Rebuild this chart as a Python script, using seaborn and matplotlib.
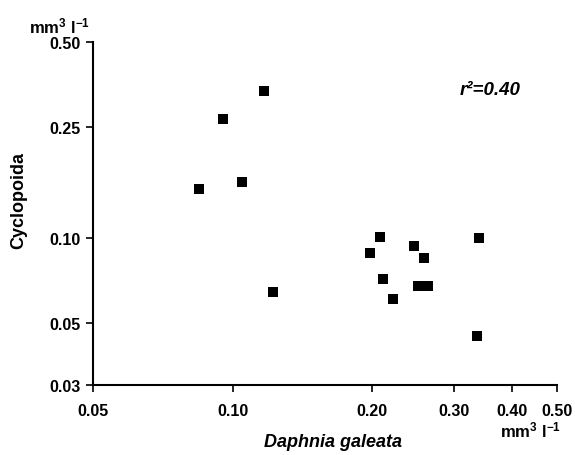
import matplotlib
matplotlib.use("Agg")
import matplotlib.pyplot as plt
import seaborn as sns
import pandas as pd
from matplotlib.ticker import FixedLocator, FixedFormatter, NullLocator

daphnia = [0.117, 0.0953, 0.1047, 0.0846, 0.122, 0.208, 0.198, 0.246, 0.258,
           0.339, 0.211, 0.251, 0.264, 0.2215, 0.336]
cyclopoida = [0.335, 0.266, 0.159, 0.150, 0.0644, 0.101, 0.0886, 0.0938, 0.085,
              0.100, 0.0716, 0.0676, 0.0676, 0.0607, 0.0449]
xticks = [0.05, 0.10, 0.20, 0.30, 0.40, 0.50]
xticklabels = ["0.05", "0.10", "0.20", "0.30", "0.40", "0.50"]
yticks = [0.03, 0.05, 0.10, 0.25, 0.50]
yticklabels = ["0.03", "0.05", "0.10", "0.25", "0.50"]

df = pd.DataFrame({"Daphnia": daphnia, "Cyclopoida": cyclopoida})

sns.set_style("white")
plt.rcParams['font.family'] = ['Liberation Sans', 'DejaVu Sans']
plt.rcParams['text.color'] = 'black'
plt.rcParams['mathtext.default'] = 'bf'
plt.rcParams['mathtext.fontset'] = 'custom'
plt.rcParams['mathtext.bf'] = 'Liberation Sans:bold'
plt.rcParams['mathtext.rm'] = 'Liberation Sans:bold'

fig = plt.figure(figsize=(5.75, 4.56), dpi=100)
ax = fig.add_axes([0.1617, 0.1535, 0.807, 0.7522])
sns.scatterplot(data=df, x="Daphnia", y="Cyclopoida", marker="s", s=58,
                color="black", edgecolor="black", linewidth=0, ax=ax)
ax.set_xscale("log")
ax.set_yscale("log")
ax.set_xlim(0.05, 0.50)
ax.set_ylim(0.03, 0.50)
ax.xaxis.set_major_locator(FixedLocator(xticks))
ax.xaxis.set_major_formatter(FixedFormatter(xticklabels))
ax.yaxis.set_major_locator(FixedLocator(yticks))
ax.yaxis.set_major_formatter(FixedFormatter(yticklabels))
ax.xaxis.set_minor_locator(NullLocator())
ax.yaxis.set_minor_locator(NullLocator())

for s in ["top", "right"]:
    ax.spines[s].set_visible(False)
for s in ["left", "bottom"]:
    ax.spines[s].set_linewidth(1.5)
    ax.spines[s].set_color("black")

ax.tick_params(axis="both", which="major", direction="out", length=5, width=1.2,
               colors="black", labelcolor="black", labelsize=11.5,
               bottom=True, left=True, top=False, right=False)
ax.tick_params(axis="x", pad=8)
ax.tick_params(axis="y", pad=4)
for lab in ax.get_xticklabels() + ax.get_yticklabels():
    lab.set_fontweight("bold")

ax.set_xlabel("")
ax.set_ylabel("")
fig.text(0.033, 0.561, "Cyclopoida", rotation=90, ha="center", va="center",
         fontsize=13, fontweight="bold", color="black")
fig.text(0.58, 0.030, "Daphnia galeata", ha="center", va="center",
         fontsize=13, fontweight="bold", fontstyle="italic", color="black")
fig.text(0.104, 0.943, "mm$^{3}$ l$^{-1}$", ha="center", va="center",
         fontsize=12, fontweight="bold", color="black")
fig.text(0.923, 0.055, "mm$^{3}$ l$^{-1}$", ha="center", va="center",
         fontsize=12, fontweight="bold", color="black")
ax.text(0.308, 0.34, "r²=0.40", ha="left", va="center", transform=ax.transData,
        fontsize=13.5, fontweight="bold", fontstyle="italic", color="black")

fig.savefig("out.png", dpi=100)
